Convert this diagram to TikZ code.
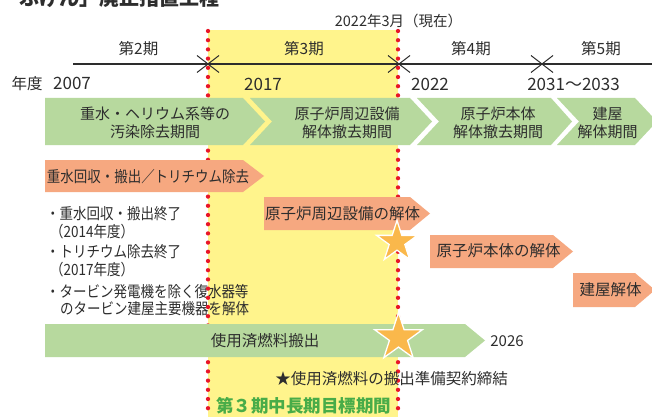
\documentclass[tikz,border=0pt]{standalone}
\usepackage{fontspec}
\usetikzlibrary{shapes.geometric}
\newfontfamily\cjk{Noto Sans CJK JP}
\newfontfamily\cjkc[FakeStretch=0.87]{Noto Sans CJK JP}
\definecolor{tcol}{RGB}{45,45,45}
\definecolor{yel}{RGB}{255,244,140}
\definecolor{gfill}{RGB}{183,217,158}
\definecolor{ofill}{RGB}{246,168,128}
\definecolor{starc}{RGB}{250,184,75}
\definecolor{redc}{RGB}{232,22,40}
\definecolor{gtext}{RGB}{72,172,72}
\tikzset{
  lbl/.style={inner sep=0pt, text=tcol, font=\cjk\fontsize{15}{18.5}\selectfont},
  period/.style={lbl, font=\cjk\fontsize{15.5}{18}\selectfont},
  yearlbl/.style={lbl, font=\cjk\fontsize{17}{20}\selectfont},
  datelbl/.style={lbl, font=\cjk\fontsize{14.5}{17}\selectfont},
  note/.style={lbl, anchor=west, font=\cjkc\fontsize{15.5}{18}\selectfont},
  boxtxt/.style={lbl, font=\cjk\fontsize{15.5}{18.5}\selectfont},
  greenbox/.style={fill=gfill},
  orangebox/.style={fill=ofill},
  staricon/.style={star, star points=5, star point ratio=2.618, fill=starc, draw=white, line width=1.3pt, inner sep=0pt},
  reddots/.style={draw=redc, line width=4.3pt, line cap=round, dash pattern=on 0pt off 9.2pt},
  tline/.style={draw=tcol, line width=1.1pt},
  tick/.style={draw=tcol, line width=1.0pt}
}
\begin{document}
\begin{tikzpicture}[x=1pt,y=-1pt]
\useasboundingbox (0,0) rectangle (652,417);
\clip (0,0) rectangle (652,417);
\fill[white] (0,0) rectangle (652,417);
% yellow band
\fill[yel] (208,30) rectangle (398,417);
% title (cut off at top)
\node[anchor=base west, inner sep=0pt, text=tcol, font=\cjk\bfseries\fontsize{20}{22}\selectfont] (title) at (19,6) {ふげん」廃止措置工程};
% date
\node[datelbl] (now) at (398.5,21) {2022年3月（現在）};
% periods
\node[period] (p2) at (138.5,48.5) {第2期};
\node[period] (p3) at (304,48.5) {第3期};
\node[period] (p4) at (471,48.5) {第4期};
\node[period] (p5) at (601,48.5) {第5期};
% timeline
\coordinate (t0) at (73,64);
\coordinate (t1) at (208,64);
\coordinate (t2) at (399,64);
\coordinate (t3) at (542,64);
\coordinate (t4) at (652,64);
\draw[tline] (t0) -- (t4);
\foreach \c in {t1,t2,t3}{
  \draw[tick] ([shift={(-11,-8.5)}]\c) -- (\c) -- ([shift={(-11,8.5)}]\c);
  \draw[tick] ([shift={(11,-8.5)}]\c) -- (\c) -- ([shift={(11,8.5)}]\c);
}
% years
\node[lbl, font=\cjk\fontsize{15.5}{18}\selectfont] (nendo) at (27,83.5) {年度};
\node[yearlbl] (y1) at (72,83.5) {2007};
\node[yearlbl] (y2) at (263,84) {2017};
\node[yearlbl] (y3) at (430,84.5) {2022};
\node[yearlbl] (y4) at (573.5,84.5) {2031～2033};
% bullet notes (under the dots)
\node[note] (n1) at (46,214) {・重水回収・搬出終了};
\node[note] (n2) at (50,231.5) {（2014年度）};
\node[note] (n3) at (46,251.5) {・トリチウム除去終了};
\node[note] (n4) at (50,269.5) {（2017年度）};
\node[note] (n5) at (46,291.5) {・タービン発電機を除く復水器等};
\node[note] (n6) at (60,308.5) {のタービン建屋主要機器を解体};
% red dotted lines
\draw[reddots] (208,31) -- (208,417);
\draw[reddots] (398,31) -- (398,417);
% green chevrons
\fill[greenbox] (45,98) -- (243,98) -- (265,121.5) -- (243,145) -- (45,145) -- cycle;
\fill[greenbox] (250,98) -- (410,98) -- (432,121.5) -- (410,145) -- (250,145) -- (272,121.5) -- cycle;
\fill[greenbox] (417,98) -- (551,98) -- (572,121.5) -- (551,145) -- (417,145) -- (439,121.5) -- cycle;
\fill[greenbox] (557,98) -- (635,98) -- (657,121.5) -- (635,145) -- (557,145) -- (579,121.5) -- cycle;
\node[lbl, align=center] (g1) at (155,123) {重水・ヘリウム系等の\\汚染除去期間};
\node[lbl, align=center] (g2) at (347,123) {原子炉周辺設備\\解体撤去期間};
\node[lbl, align=center] (g3) at (498,123) {原子炉本体\\解体撤去期間};
\node[lbl, align=center] (g4) at (607.5,123) {建屋\\解体期間};
% orange arrows
\fill[orangebox] (45,160) -- (243,160) -- (264,176) -- (243,192) -- (45,192) -- cycle;
\fill[orangebox] (264,197) -- (410,197) -- (430,213.5) -- (410,230) -- (264,230) -- cycle;
\fill[orangebox] (430,235) -- (553,235) -- (573,251.5) -- (553,268) -- (430,268) -- cycle;
\fill[orangebox] (573,273) -- (635,273) -- (655,290) -- (635,307) -- (573,307) -- cycle;
\node[lbl, font=\cjkc\fontsize{15.5}{18}\selectfont] (o1) at (148,177) {重水回収・搬出／トリチウム除去};
\node[boxtxt] (o2) at (342.5,214) {原子炉周辺設備の解体};
\node[boxtxt] (o3) at (498.5,250.5) {原子炉本体の解体};
\node[boxtxt] (o4) at (610.5,290) {建屋解体};
% spent fuel bar
\fill[greenbox] (45,324) -- (465,324) -- (485,340.5) -- (465,357) -- (45,357) -- cycle;
\node[boxtxt] (sf) at (265,341) {使用済燃料搬出};
\node[lbl] (y2026) at (507,341.5) {2026};
% stars
\node[staricon, minimum size=43pt] (s1) at (397,242) {};
\node[staricon, minimum size=50pt] (s2) at (398.5,337.5) {};
% notes bottom
\node[boxtxt] (contract) at (391.5,379) {★使用済燃料の搬出準備契約締結};
\node[inner sep=0pt, text=gtext, font=\cjk\bfseries\fontsize{17.5}{20}\selectfont] (goal) at (303.5,405.5) {第３期中長期目標期間};
\end{tikzpicture}
\end{document}
